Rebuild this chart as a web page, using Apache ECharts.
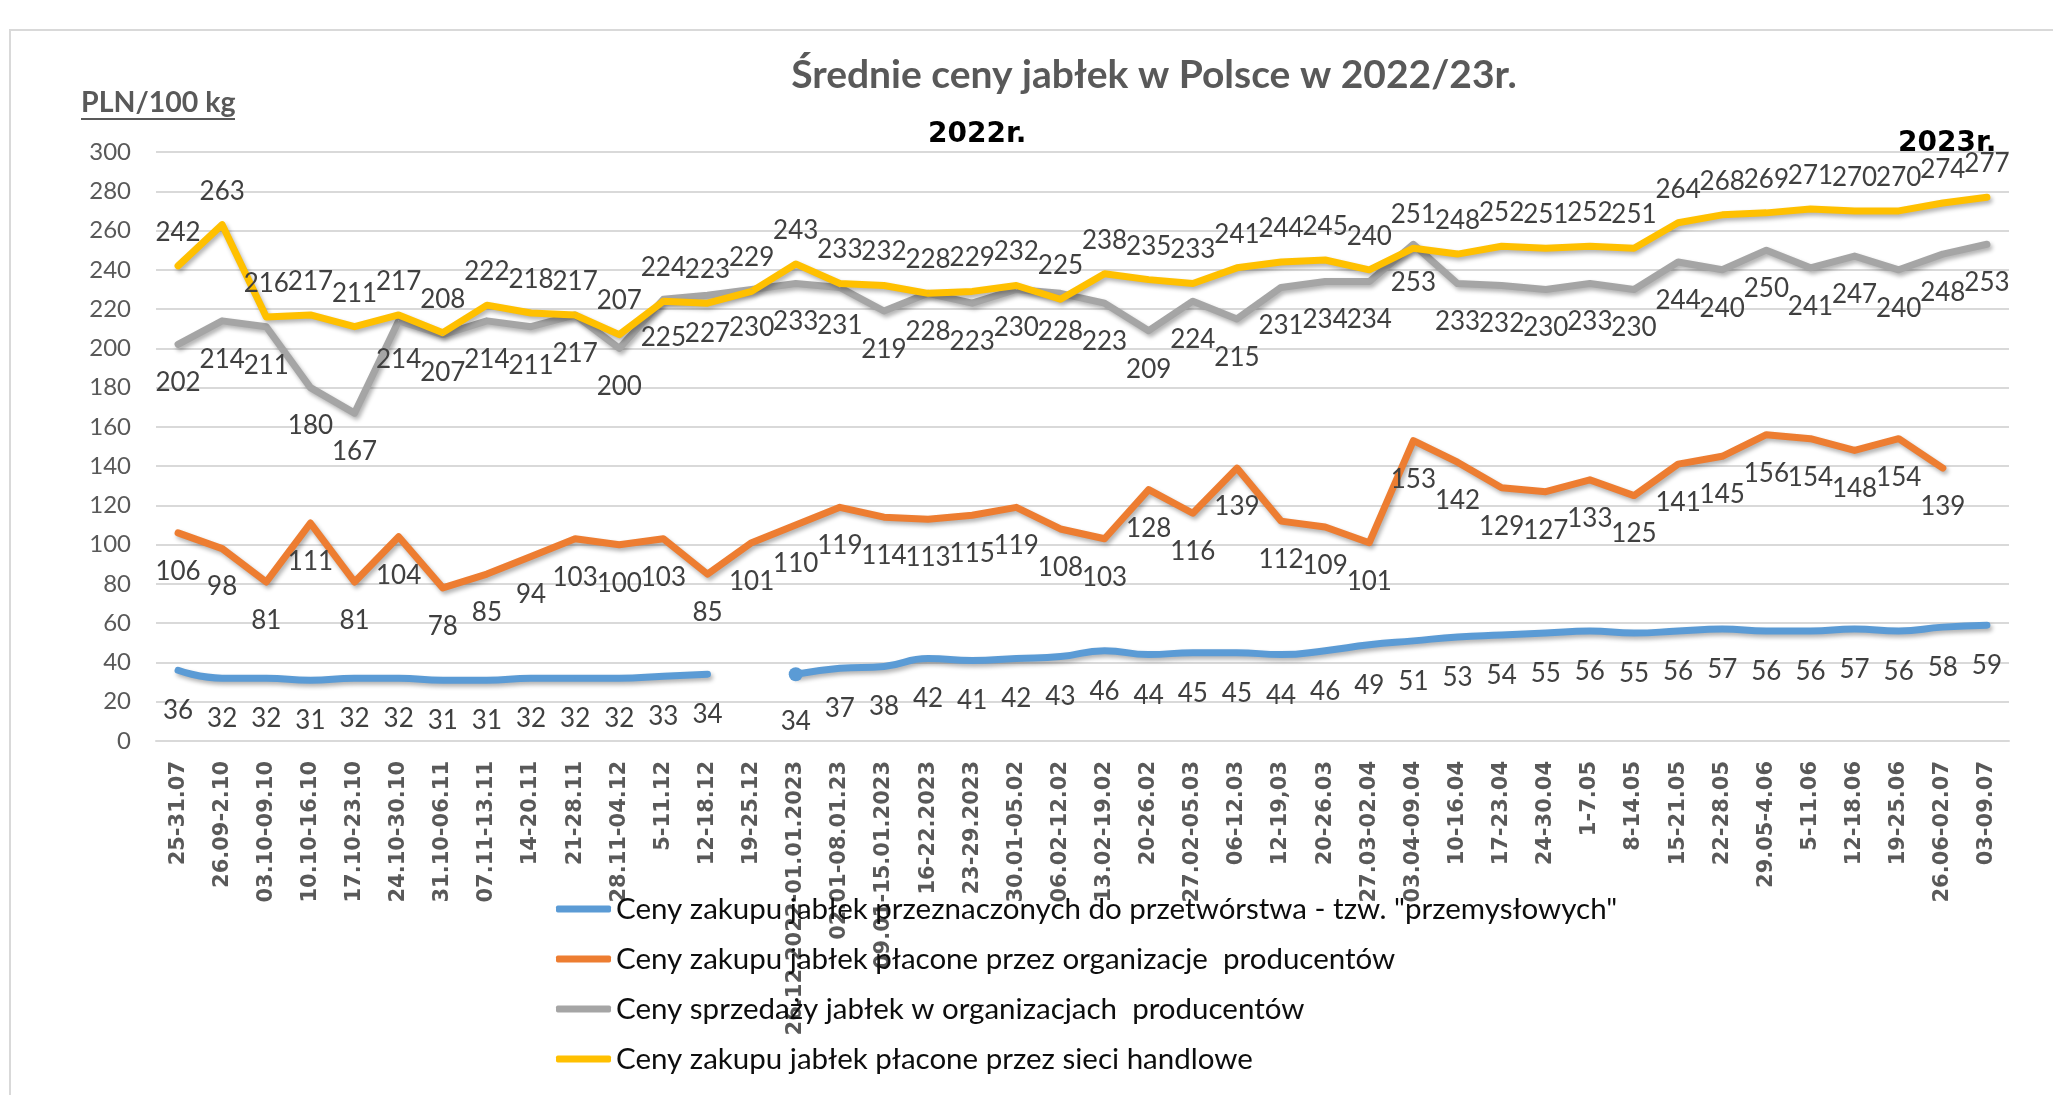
<!DOCTYPE html>
<html>
<head>
<meta charset="utf-8">
<title>Średnie ceny jabłek w Polsce w 2022/23r.</title>
<script src="https://cdn.jsdelivr.net/npm/echarts@6/dist/echarts.min.js"></script>
<style>
  html, body { margin: 0; padding: 0; background: #fff; }
  #chart { width: 2053px; height: 1095px; }
</style>
</head>
<body>
<div id="chart"></div>
<script>
//week labels on the x axis
const weeks = [
    "25-31.07", "26.09-2.10", "03.10-09.10", "10.10-16.10", "17.10-23.10", "24.10-30.10",
    "31.10-06.11", "07.11-13.11", "14-20.11", "21-28.11", "28.11-04.12", "5-11.12",
    "12-18.12", "19-25.12", "26.12.2022-01.01.2023", "02.01-08.01.23", "09.01-15.01.2023",
    "16-22.2023", "23-29.2023", "30.01-05.02", "06.02-12.02", "13.02-19.02", "20-26.02",
    "27.02-05.03", "06-12.03", "12-19,03", "20-26.03", "27.03-02.04", "03.04-09.04",
    "10-16.04", "17-23.04", "24-30.04", "1-7.05", "8-14.05", "15-21.05", "22-28.05",
    "29.05-4.06", "5-11.06", "12-18.06", "19-25.06", "26.06-02.07", "03-09.07"
];

//PLN/100 kg, null = no quotation that week
const industrialPrices = [
    36, 32, 32, 31, 32, 32, 31, 31, 32, 32, 32, 33, 34, null,
    34, 37, 38, 42, 41, 42, 43, 46, 44, 45, 45, 44, 46, 49,
    51, 53, 54, 55, 56, 55, 56, 57, 56, 56, 57, 56, 58, 59
];
const producerPurchasePrices = [
    106, 98, 81, 111, 81, 104, 78, 85, 94, 103, 100, 103, 85, 101,
    110, 119, 114, 113, 115, 119, 108, 103, 128, 116, 139, 112, 109, 101,
    153, 142, 129, 127, 133, 125, 141, 145, 156, 154, 148, 154, 139, null
];
const producerSalePrices = [
    202, 214, 211, 180, 167, 214, 207, 214, 211, 217, 200, 225, 227, 230,
    233, 231, 219, 228, 223, 230, 228, 223, 209, 224, 215, 231, 234, 234,
    253, 233, 232, 230, 233, 230, 244, 240, 250, 241, 247, 240, 248, 253
];
const retailPrices = [
    242, 263, 216, 217, 211, 217, 208, 222, 218, 217, 207, 224, 223, 229,
    243, 233, 232, 228, 229, 232, 225, 238, 235, 233, 241, 244, 245, 240,
    251, 248, 252, 251, 252, 251, 264, 268, 269, 271, 270, 270, 274, 277
];

const seriesNames = [
    'Ceny zakupu jabłek przeznaczonych do przetwórstwa - tzw. "przemysłowych"',
    "Ceny zakupu jabłek płacone przez organizacje  producentów",
    "Ceny sprzedaży jabłek w organizacjach  producentów",
    "Ceny zakupu jabłek płacone przez sieci handlowe"
];
const colorPalette = ["#5B9BD5", "#ED7D31", "#A5A5A5", "#FFC000"];

//y axis range
const yMin = 0;
const yMax = 300;
const yStep = 20;

const NUM_FONT = "'DejaVu Sans', sans-serif";
const TEXT_FONT = "Lato, 'Open Sans', sans-serif";

//shared look of every line
function makeSeries(name, data, color, labelPos, labelDist, smooth) {
    return {
        name: name,
        type: "line",
        data: data,
        smooth: smooth,
        symbol: "circle",
        symbolSize: 1,
        showSymbol: true,
        itemStyle: { color: color },
        lineStyle: {
            width: 7,
            color: color,
            cap: "round",
            join: "round",
            shadowColor: "rgba(0,0,0,0.3)",
            shadowBlur: 4,
            shadowOffsetX: 2,
            shadowOffsetY: 3
        },
        label: {
            show: true,
            position: labelPos,
            distance: labelDist,
            fontFamily: TEXT_FONT,
            fontSize: 26,
            lineHeight: 30,
            color: "#404040"
        },
        emphasis: { disabled: true },
        animation: false
    };
}

//blue line restarts with a dot after the christmas gap
const industrialData = industrialPrices.map((v, i) =>
    (i > 0 && industrialPrices[i - 1] === null && v !== null) ? { value: v, symbolSize: 14 } : v
);

let chartDom = document.getElementById("chart");
let myChart = echarts.init(chartDom, null, { renderer: "canvas" });

let option = {
    backgroundColor: "#fff",
    title: {
        text: "Średnie ceny jabłek w Polsce w 2022/23r.",
        left: 1149,
        top: 51,
        textAlign: "center",
        textStyle: { fontFamily: TEXT_FONT, fontWeight: "bold", fontSize: 39, color: "#595959" }
    },
    grid: {
        left: 156,
        right: 44,
        top: 152,
        bottom: 354,
        containLabel: false
    },
    xAxis: {
        type: "category",
        data: weeks,
        boundaryGap: true,
        axisTick: { show: false },
        axisLine: { lineStyle: { color: "#D9D9D9", width: 2 } },
        axisLabel: {
            interval: 0,
            rotate: 90,
            margin: 20,
            fontFamily: NUM_FONT,
            fontWeight: "bold",
            fontSize: 21,
            color: "#595959"
        }
    },
    yAxis: {
        type: "value",
        min: yMin,
        max: yMax,
        interval: yStep,
        axisLine: { show: false },
        axisTick: { show: false },
        axisLabel: { margin: 25, fontFamily: TEXT_FONT, fontSize: 24, color: "#595959" },
        splitLine: { lineStyle: { color: "#D9D9D9", width: 2 } }
    },
    legend: {
        orient: "vertical",
        left: 556,
        top: 892,
        padding: 0,
        itemGap: 16,
        itemWidth: 55,
        itemHeight: 7,
        icon: "roundRect",
        data: seriesNames,
        textStyle: { fontFamily: TEXT_FONT, fontSize: 29.5, lineHeight: 34, color: "#0d0d0d" }
    },
    graphic: [
        {
            type: "rect",
            silent: true,
            shape: { x: 10, y: 30, width: 2100, height: 1100 },
            style: { fill: "none", stroke: "#D9D9D9", lineWidth: 2 }
        },
        {
            type: "text",
            left: 81,
            top: 88,
            style: { text: "PLN/100 kg", font: "bold 28.5px Lato", fill: "#595959" }
        },
        {
            type: "line",
            silent: true,
            shape: { x1: 81, y1: 119, x2: 235, y2: 119 },
            style: { stroke: "#595959", lineWidth: 2 }
        },
        {
            type: "text",
            left: 928,
            top: 121,
            style: { text: "2022r.", font: "bold 28px 'DejaVu Sans'", fill: "#000" }
        },
        {
            type: "text",
            left: 1898,
            top: 130,
            style: { text: "2023r.", font: "bold 28px 'DejaVu Sans'", fill: "#000" }
        }
    ],
    series: [
        makeSeries(seriesNames[0], industrialData, colorPalette[0], "bottom", 25, true),
        makeSeries(seriesNames[1], producerPurchasePrices, colorPalette[1], "bottom", 23, false),
        makeSeries(seriesNames[2], producerSalePrices, colorPalette[2], "bottom", 23, false),
        makeSeries(seriesNames[3], retailPrices, colorPalette[3], "top", 18, false)
    ],
    animation: false
};

myChart.setOption(option);

window.addEventListener("resize", () => {
    myChart.resize();
});
</script>
</body>
</html>
